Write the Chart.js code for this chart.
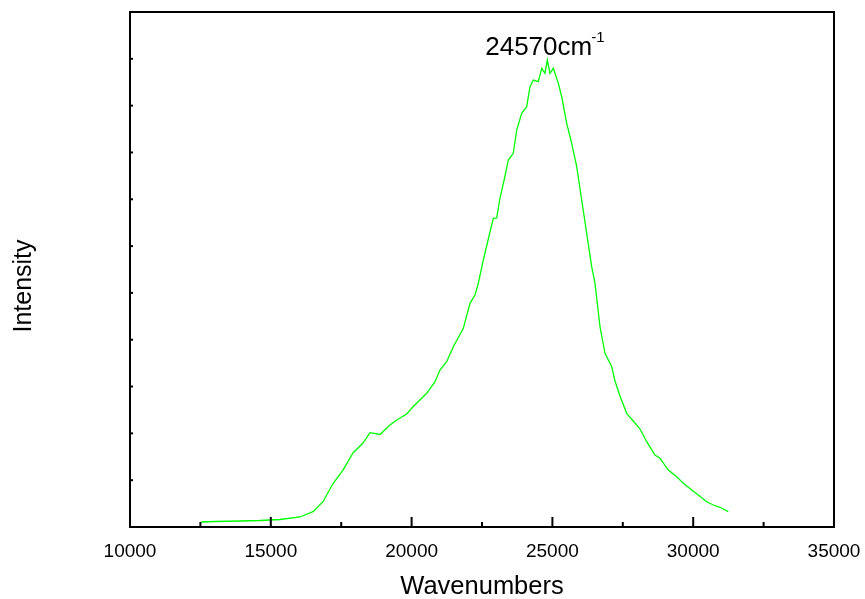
<!DOCTYPE html>
<html lang="en">

<head>
    <meta charset="utf-8">
    <script src="https://cdn.jsdelivr.net/npm/chart.js@4.4.0/dist/chart.umd.min.js"></script>
    <style>
        body {
            margin: 0;
            background: #fff;
        }
    </style>
</head>

<body>
    <canvas id="spectrum" width="865" height="599"></canvas>

    <script>
        // spectrum (arbitrary intensity units)
        const wavenumbers = [
            12521, 13018, 13906, 14616, 15327, 16037, 16499, 16854, 17209, 17564,
            17919, 18274, 18523, 18878, 19233, 19471, 19826, 20050, 20536, 20831,
            21008, 21246, 21481, 21836, 22074, 22251, 22369, 22546, 22784, 22901,
            23022, 23139, 23317, 23434, 23611, 23732, 23910, 24087, 24204, 24322,
            24499, 24620, 24737, 24819, 24915, 25032, 25209, 25330, 25508, 25685,
            25863, 26040, 26218, 26395, 26513, 26690, 26868, 27106, 27223, 27400,
            27638, 27873, 28111, 28349, 28643, 28821, 29116, 29414, 29648, 29947,
            30181, 30479, 30714, 30952, 31246
        ];
        const intensity = [
            107, 117, 128, 139, 160, 214, 327, 540, 929, 1217,
            1581, 1794, 2014, 1976, 2179, 2285, 2414, 2569, 2856, 3103,
            3353, 3531, 3851, 4244, 4778, 4955, 5205, 5703, 6301, 6593,
            6600, 7027, 7497, 7839, 7982, 8479, 8836, 8977, 9404, 9547,
            9511, 9797, 9690, 9974, 9690, 9797, 9477, 9190, 8622, 8195,
            7696, 6984, 6273, 5560, 5205, 4278, 3710, 3424, 3118, 2798,
            2428, 2264, 2093, 1822, 1538, 1467, 1217, 1074, 933, 790,
            683, 540, 470, 421, 327
        ];
        const xTickLabels = [10000, 15000, 20000, 25000, 30000, 35000];
        const peakLabel = '24570cm';
        const peakSup = '-1';

        const fontFamily = "'Liberation Sans', Arial, sans-serif";

        // frame, inward ticks, y title and the peak label
        const framePlugin = {
            id: 'frame',
            afterDraw(chart) {
                const c = chart.ctx;
                const area = chart.chartArea;
                const xs = chart.scales.x;
                const ys = chart.scales.y;
                c.save();
                c.strokeStyle = '#000';
                c.lineWidth = 2;
                c.strokeRect(area.left, area.top, area.right - area.left, area.bottom - area.top);

                xs.ticks.forEach(t => {
                    const px = xs.getPixelForValue(t.value);
                    const len = xTickLabels.includes(t.value) ? 10 : 5;
                    c.beginPath();
                    c.moveTo(px, area.bottom);
                    c.lineTo(px, area.bottom - len);
                    c.stroke();
                });
                ys.ticks.forEach(t => {
                    const py = ys.getPixelForValue(t.value);
                    c.beginPath();
                    c.moveTo(area.left, py);
                    c.lineTo(area.left + 3, py);
                    c.stroke();
                });

                c.fillStyle = '#000';

                // y title sits a bit below the middle in the original
                c.save();
                c.translate(24, 286);
                c.rotate(-Math.PI / 2);
                c.textAlign = 'center';
                c.textBaseline = 'middle';
                c.font = '25px ' + fontFamily;
                c.fillText('Intensity', 0, 0);
                c.restore();

                c.textAlign = 'left';
                c.textBaseline = 'alphabetic';
                c.font = '26px ' + fontFamily;
                const tx = xs.getPixelForValue(22615);
                const ty = ys.getPixelForValue(10080);
                c.fillText(peakLabel, tx, ty);
                const w = c.measureText(peakLabel).width;
                c.font = '15px ' + fontFamily;
                c.fillText(peakSup, tx + w - 1, ty - 13);
                c.restore();
            }
        };

        const ctx = document.getElementById('spectrum');
        const chart = new Chart(ctx, {
            type: 'line',
            data: {
                datasets: [{
                    label: 'Intensity',
                    data: wavenumbers.map((x, i) => ({ x: x, y: intensity[i] })),
                    borderColor: '#00ff00',
                    borderWidth: 1.3,
                    pointRadius: 0,
                    tension: 0,
                    fill: false
                }]
            },
            options: {
                responsive: false,
                animation: false,
                layout: {
                    padding: { left: 0, right: 31, top: 12, bottom: 0 }
                },
                plugins: {
                    legend: { display: false },
                    tooltip: { enabled: false }
                },
                scales: {
                    x: {
                        type: 'linear',
                        min: 10000,
                        max: 35000,
                        grid: { display: false, drawTicks: false },
                        border: { display: false },
                        ticks: {
                            stepSize: 2500,
                            autoSkip: false,
                            maxRotation: 0,
                            padding: 13,
                            color: '#000',
                            font: { family: fontFamily, size: 19 },
                            callback: v => xTickLabels.includes(v) ? String(v) : ''
                        },
                        title: {
                            display: true,
                            text: 'Wavenumbers',
                            color: '#000',
                            font: { family: fontFamily, size: 25.5 },
                            padding: { top: 0, bottom: -3 }
                        },
                        afterFit: s => {
                            s.height = 72;
                            s.paddingLeft = 0;
                            s.paddingRight = 0;
                        }
                    },
                    y: {
                        type: 'linear',
                        min: 0,
                        max: 11000,
                        grid: { display: false, drawTicks: false },
                        border: { display: false },
                        ticks: {
                            stepSize: 1000,
                            display: false
                        },
                        title: { display: false },
                        afterFit: s => { s.width = 130; }
                    }
                }
            },
            plugins: [framePlugin]
        });
    </script>

</body>

</html>
